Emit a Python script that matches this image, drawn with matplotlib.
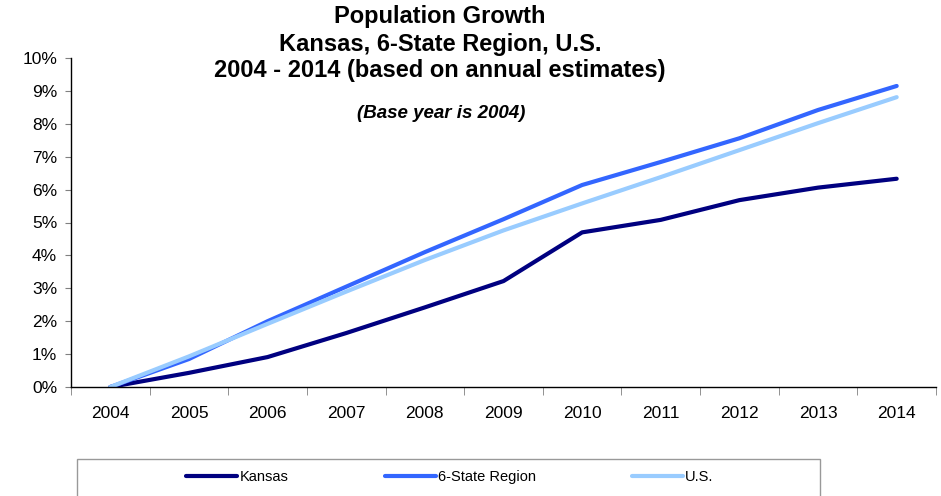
import matplotlib.pyplot as plt
import numpy as np
from matplotlib.patches import Rectangle
from matplotlib.ticker import PercentFormatter

plt.rcParams['font.family'] = ['Liberation Sans', 'DejaVu Sans']

years = [2004, 2005, 2006, 2007, 2008, 2009, 2010, 2011, 2012, 2013, 2014]
kansas = [0.0, 0.43, 0.91, 1.64, 2.42, 3.22, 4.70, 5.08, 5.68, 6.06, 6.33]
region = [0.0, 0.85, 2.00, 3.05, 4.10, 5.10, 6.14, 6.84, 7.56, 8.42, 9.15]
us = [0.0, 0.93, 1.92, 2.90, 3.86, 4.76, 5.58, 6.38, 7.20, 8.02, 8.81]

names = ['Kansas', '6-State Region', 'U.S.']
colors = ['#000080', '#3366FF', '#99CCFF']

W, H = 941, 496
fig = plt.figure(figsize=(W / 100, H / 100), dpi=100)
ax = fig.add_axes([71 / W, 1 - 387 / H, (936 - 71) / W, (387 - 58) / H])

x = np.arange(len(years))
for series, name, c in zip([kansas, region, us], names, colors):
    ax.plot(x, series, color=c, lw=3, label=name, solid_capstyle='round')

ax.set_xlim(-0.5, len(years) - 0.5)
ax.set_ylim(0, 10)
ax.set_yticks(range(0, 11))
ax.yaxis.set_major_formatter(PercentFormatter(decimals=0))
ax.set_xticks(x)
ax.set_xticklabels([str(y) for y in years])
ax.set_xticks(np.arange(-0.5, len(years), 1), minor=True)
ax.tick_params(axis='x', which='major', length=0, pad=14, labelsize=12.5)
ax.tick_params(axis='x', which='minor', length=6, color='#808080')
ax.tick_params(axis='y', length=4, color='#808080', labelsize=12.5, pad=6)
for side in ['top', 'right']:
    ax.spines[side].set_visible(False)
for side in ['left', 'bottom']:
    ax.spines[side].set_color('black')
    ax.spines[side].set_linewidth(1)

# stacked title lines sit over the top of the plot area
title_lines = ['Population Growth', 'Kansas, 6-State Region, U.S.',
               '2004 - 2014 (based on annual estimates)']
for line, yp in zip(title_lines, [17, 44, 71]):
    fig.text(440 / W, 1 - yp / H, line, ha='center', va='center',
             fontsize=17, fontweight='bold')
fig.text(441 / W, 1 - 113 / H, '(Base year is 2004)', ha='center', va='center',
         fontsize=13.5, fontweight='bold', fontstyle='italic')

# legend box runs off the bottom edge
fig.patches.append(Rectangle((77 / W, -0.05), (820 - 77) / W, 0.05 + (H - 459) / H,
                             transform=fig.transFigure, fill=False,
                             edgecolor='#999999', lw=1))
fig.legend(loc='center', bbox_to_anchor=(450 / W, 1 - 477 / H), ncol=3,
           frameon=False, fontsize=10.5, handlelength=3.5, handletextpad=0.15,
           columnspacing=6.6, borderaxespad=0)

fig.savefig('out.png', dpi=100)
